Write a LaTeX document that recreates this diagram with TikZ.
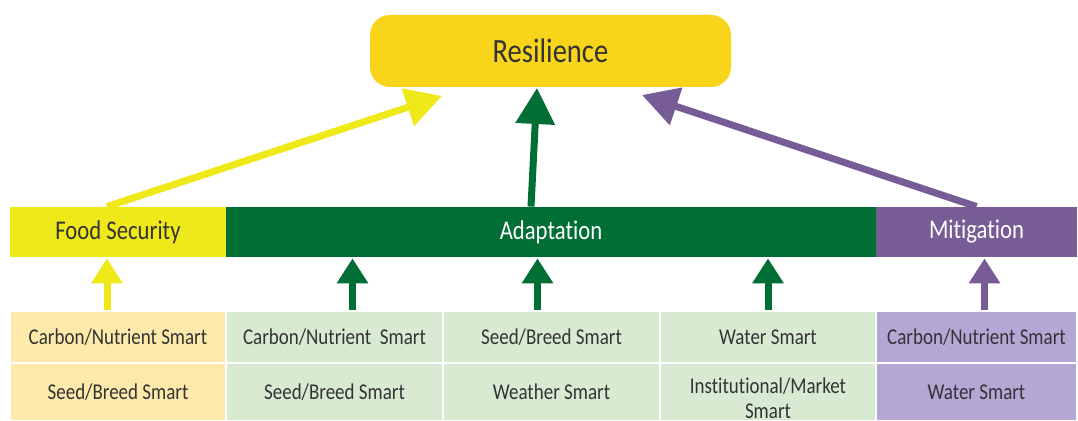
\documentclass[tikz,border=0pt]{standalone}
\usepackage{fontspec}
\setmainfont{Carlito}[FakeStretch=0.84,Ligatures={NoCommon}]
\usepackage{xcolor}
\usetikzlibrary{arrows.meta}

\definecolor{resyellow}{HTML}{F8D41A}
\definecolor{fsyellow}{HTML}{EFE91A}
\definecolor{adgreen}{HTML}{006E35}
\definecolor{mipurple}{HTML}{785C96}
\definecolor{lightyellow}{HTML}{FDE9AA}
\definecolor{lightgreen}{HTML}{D9EAD3}
\definecolor{lightpurple}{HTML}{B4A7D6}
\definecolor{txtgray}{HTML}{333333}

\tikzset{
	band/.style={inner sep=0pt,minimum height=25pt,font=\fontsize{13.5}{16}\selectfont},
	cell/.style={inner sep=0pt,draw=white,line width=0.8pt,text=txtgray,align=center,font=\fontsize{11.3}{12.5}\selectfont},
	bigarrow/.style={line width=3.5pt,-{Triangle[width=19pt,length=18pt]}},
	smallarrow/.style={line width=3.5pt,-{Triangle[width=15pt,length=12.5pt]}}
}

\begin{document}
\begin{tikzpicture}[x=0.5pt,y=-0.5pt]
	\useasboundingbox (0,0) rectangle (1078,421);
	
	\node[fill=resyellow,rounded corners=10pt,minimum width=180.5pt,minimum height=36pt,text=txtgray,font=\fontsize{17}{20}\selectfont] (res) at (550.5,51) {Resilience};
	
	\node[band,fill=fsyellow,text=txtgray,minimum width=108pt] (fs) at (118,232) {Food Security};
	\node[band,fill=adgreen,text=white,minimum width=325pt] (ad) at (551,232) {Adaptation};
	\node[band,fill=mipurple,text=white,minimum width=100.5pt] (mi) at (976.5,232) {Mitigation};
	
	% first row
	\node[cell,fill=lightyellow,minimum width=108pt,minimum height=26pt] (fs1) at (118,337) {Carbon/Nutrient Smart};
	\node[cell,fill=lightgreen,minimum width=108.5pt,minimum height=26pt] (ad1) at (334.5,337) {Carbon/Nutrient\ \ Smart};
	\node[cell,fill=lightgreen,minimum width=108.5pt,minimum height=26pt] (ad2) at (551.5,337) {Seed/Breed Smart};
	\node[cell,fill=lightgreen,minimum width=108pt,minimum height=26pt] (ad3) at (768,337) {Water Smart};
	\node[cell,fill=lightpurple,minimum width=100.5pt,minimum height=26pt] (mi1) at (976.5,337) {Carbon/Nutrient Smart};
	
	% second row
	\node[cell,fill=lightyellow,minimum width=108pt,minimum height=29pt] (fs2) at (118,392) {Seed/Breed Smart};
	\node[cell,fill=lightgreen,minimum width=108.5pt,minimum height=29pt] (ad4) at (334.5,392) {Seed/Breed Smart};
	\node[cell,fill=lightgreen,minimum width=108.5pt,minimum height=29pt] (ad5) at (551.5,392) {Weather Smart};
	\node[cell,fill=lightgreen,minimum width=108pt,minimum height=29pt] (ad6) at (768,392) {};
	\node[cell,draw=none] (ad6text) at ([yshift=-3pt]ad6.center) {Institutional/Market\\Smart};
	\node[cell,fill=lightpurple,minimum width=100.5pt,minimum height=29pt] (mi2) at (976.5,392) {Water Smart};
	
	\coordinate (fstip) at (442,96);
	\coordinate (adtip) at (537,88);
	\coordinate (mitip) at (642,95);
	
	\draw[bigarrow,fsyellow] ([xshift=-5.5pt]fs.north) -- (fstip);
	\draw[bigarrow,adgreen] ([xshift=-10pt]ad.north) -- (adtip);
	\draw[bigarrow,mipurple] (mi.north) -- (mitip);
	
	\draw[smallarrow,fsyellow] ([xshift=-5.5pt]fs1.north) -- ([xshift=-5.5pt,yshift=-0.5pt]fs.south);
	\draw[smallarrow,adgreen] ([xshift=9pt]ad1.north) -- ([xshift=9pt,yshift=-0.5pt]ad1.north |- ad.south);
	\draw[smallarrow,adgreen] ([xshift=-7pt]ad2.north) -- ([xshift=-7pt,yshift=-0.5pt]ad2.north |- ad.south);
	\draw[smallarrow,adgreen] (ad3.north) -- ([yshift=-0.5pt]ad3.north |- ad.south);
	\draw[smallarrow,mipurple] ([xshift=4pt]mi1.north) -- ([xshift=4pt,yshift=-0.5pt]mi.south);
\end{tikzpicture}
\end{document}
